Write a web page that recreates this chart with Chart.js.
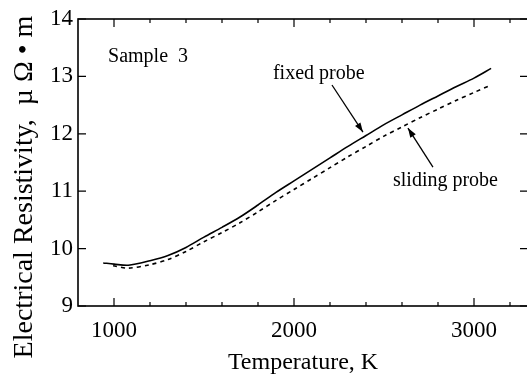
<!DOCTYPE html>
<html>
<head>
<meta charset="utf-8">
<script src="https://cdn.jsdelivr.net/npm/chart.js@4.4.1/dist/chart.umd.min.js"></script>
<style>
  html, body { margin: 0; padding: 0; background: #fff; overflow: hidden; }
  #wrap { width: 530px; height: 377px; }
</style>
</head>
<body>
<div id="wrap"><canvas id="chart"></canvas></div>
<script>
// Temperature (K) and resistivity (µΩ·m)
const fixedT = [940, 1000, 1080, 1200, 1300, 1400, 1500, 1600, 1700, 1800, 1900, 2000,
    2100, 2200, 2300, 2400, 2500, 2600, 2700, 2800, 2900, 3000, 3095];
const fixedR = [9.75, 9.73, 9.71, 9.79, 9.88, 10.02, 10.20, 10.37, 10.55, 10.76, 10.98, 11.18,
    11.38, 11.58, 11.78, 11.97, 12.16, 12.33, 12.50, 12.66, 12.82, 12.97, 13.14];

const slidingT = [995, 1080, 1200, 1300, 1400, 1500, 1600, 1700, 1800, 1900, 2000,
    2100, 2200, 2300, 2400, 2500, 2600, 2700, 2800, 2900, 3000, 3095];
const slidingR = [9.70, 9.66, 9.72, 9.81, 9.95, 10.12, 10.28, 10.45, 10.64, 10.84, 11.03,
    11.22, 11.41, 11.60, 11.78, 11.96, 12.12, 12.28, 12.43, 12.58, 12.72, 12.85];

const xTicks = [1000, 2000, 3000];
const xMinorTicks = [1200, 1400, 1600, 1800, 2200, 2400, 2600, 2800, 3200];
const yTicks = [9, 10, 11, 12, 13, 14];

const yTitle = 'Electrical Resistivity,  \u00b5 \u03a9 \u2022 m';

// labels and arrows, in data coordinates
const notes = [
    { text: 'Sample  3', x: 967, y: 13.34 },
    { text: 'fixed probe', x: 1883, y: 13.04 },
    { text: 'sliding probe', x: 2550, y: 11.18 },
];
const arrows = [
    { from: [2211, 12.85], to: [2383, 12.03] },
    { from: [2772, 11.42], to: [2633, 12.10] },
];

const toPoints = (xs, ys) => xs.map((x, i) => ({ x: x, y: ys[i] }));

const serif = '"Liberation Serif", "DejaVu Serif", serif';

// inward ticks on all four sides, plus the frame
const frameTicks = {
    id: 'frameTicks',
    afterDatasetsDraw(chart) {
        const { ctx, chartArea: a, scales: { x, y } } = chart;
        ctx.save();
        ctx.strokeStyle = '#000';
        ctx.lineWidth = 1.6;
        ctx.strokeRect(a.left, a.top, a.right - a.left, a.bottom - a.top);
        ctx.lineWidth = 1.2;
        ctx.beginPath();
        xTicks.forEach(v => {
            const px = x.getPixelForValue(v);
            ctx.moveTo(px, a.bottom); ctx.lineTo(px, a.bottom - 8);
            ctx.moveTo(px, a.top); ctx.lineTo(px, a.top + 8);
        });
        xMinorTicks.forEach(v => {
            const px = x.getPixelForValue(v);
            ctx.moveTo(px, a.bottom); ctx.lineTo(px, a.bottom - 4);
            ctx.moveTo(px, a.top); ctx.lineTo(px, a.top + 4);
        });
        yTicks.forEach(v => {
            const py = y.getPixelForValue(v);
            ctx.moveTo(a.left, py); ctx.lineTo(a.left + 8, py);
            ctx.moveTo(a.right, py); ctx.lineTo(a.right - 8, py);
        });
        ctx.stroke();
        ctx.restore();
    }
};

const notesPlugin = {
    id: 'notes',
    afterDatasetsDraw(chart) {
        const { ctx, scales: { x, y } } = chart;
        ctx.save();
        ctx.fillStyle = '#000';
        ctx.font = '20px ' + serif;
        ctx.textBaseline = 'middle';
        notes.forEach(n => ctx.fillText(n.text, x.getPixelForValue(n.x), y.getPixelForValue(n.y)));
        ctx.strokeStyle = '#000';
        ctx.lineWidth = 1.3;
        arrows.forEach(ar => {
            const x1 = x.getPixelForValue(ar.from[0]), y1 = y.getPixelForValue(ar.from[1]);
            const x2 = x.getPixelForValue(ar.to[0]), y2 = y.getPixelForValue(ar.to[1]);
            ctx.beginPath();
            ctx.moveTo(x1, y1); ctx.lineTo(x2, y2);
            ctx.stroke();
            const ang = Math.atan2(y2 - y1, x2 - x1);
            ctx.beginPath();
            ctx.moveTo(x2, y2);
            ctx.lineTo(x2 - 10 * Math.cos(ang - 0.33), y2 - 10 * Math.sin(ang - 0.33));
            ctx.lineTo(x2 - 10 * Math.cos(ang + 0.33), y2 - 10 * Math.sin(ang + 0.33));
            ctx.closePath();
            ctx.fill();
        });
        // y axis title (taller than the scale box in the original, so drawn here)
        ctx.translate(25, 187);
        ctx.rotate(-Math.PI / 2);
        ctx.font = '28px ' + serif;
        ctx.textAlign = 'center';
        ctx.fillText(yTitle, 0, 0);
        ctx.restore();
    }
};

new Chart(document.getElementById('chart'), {
    type: 'scatter',
    data: {
        datasets: [
            {
                label: 'fixed probe',
                data: toPoints(fixedT, fixedR),
                showLine: true,
                borderColor: '#000',
                borderWidth: 1.6,
                pointRadius: 0,
                tension: 0.3,
            },
            {
                label: 'sliding probe',
                data: toPoints(slidingT, slidingR),
                showLine: true,
                borderColor: '#000',
                borderWidth: 1.6,
                borderDash: [4, 4],
                pointRadius: 0,
                tension: 0.3,
            },
        ],
    },
    options: {
        responsive: true,
        maintainAspectRatio: false,
        animation: false,
        layout: { padding: { top: 19, right: 2, left: 0, bottom: 0 } },
        plugins: {
            legend: { display: false },
            tooltip: { enabled: false },
        },
        scales: {
            x: {
                type: 'linear',
                min: 800,
                max: 3300,
                afterBuildTicks: s => { s.ticks = xTicks.map(v => ({ value: v })); },
                afterFit: s => { s.height = 71; },
                grid: { display: false, drawTicks: false },
                border: { display: false },
                ticks: {
                    color: '#000',
                    padding: 11,
                    maxRotation: 0,
                    callback: v => String(v),
                    font: { family: serif, size: 23 },
                },
                title: {
                    display: true,
                    text: 'Temperature, K',
                    color: '#000',
                    padding: { top: 0, bottom: 0 },
                    font: { family: serif, size: 24 },
                },
            },
            y: {
                min: 9,
                max: 14,
                afterBuildTicks: s => { s.ticks = yTicks.map(v => ({ value: v })); },
                afterFit: s => { s.width = 78; },
                grid: { display: false, drawTicks: false },
                border: { display: false },
                ticks: {
                    color: '#000',
                    padding: 5,
                    callback: v => String(v),
                    font: { family: serif, size: 23 },
                },
            },
        },
    },
    plugins: [frameTicks, notesPlugin],
});
</script>
</body>
</html>
